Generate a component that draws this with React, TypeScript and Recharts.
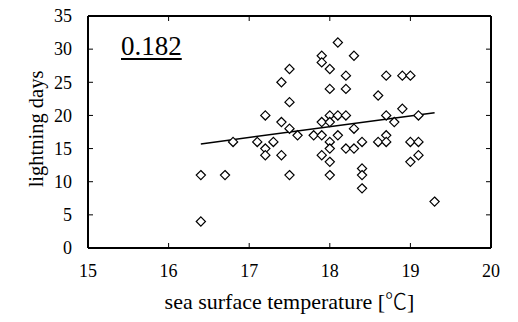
import React from 'react';
import { ScatterChart, Scatter, XAxis, YAxis, ReferenceLine, Label } from 'recharts';

const seaSurfaceTemp = [
  16.4, 16.7, 16.4, 16.8, 17.1, 17.3, 17.2, 17.2, 17.4, 17.5,
  17.5, 17.4, 17.5, 17.2, 17.4, 17.5, 17.6, 17.8, 17.9, 17.9,
  18.0, 18.0, 18.1, 18.2, 18.1, 18.3, 18.0, 18.0, 17.9, 18.0,
  18.0, 18.2, 18.3, 18.4, 18.4, 18.4, 18.4, 18.1, 17.9, 17.9,
  18.3, 18.0, 18.2, 18.7, 18.9, 19.0, 18.0, 18.2, 18.6, 18.9,
  18.7, 19.1, 18.8, 18.7, 18.6, 18.7, 19.0, 19.1, 19.1, 19.0,
  19.3,
];
const lightningDays = [
  11, 11, 4, 16, 16, 16, 15, 14, 14, 11,
  27, 25, 22, 20, 19, 18, 17, 17, 17, 19,
  20, 19, 20, 20, 17, 18, 16, 15, 14, 13,
  11, 15, 15, 16, 12, 11, 9, 31, 29, 28,
  29, 27, 26, 26, 26, 26, 24, 24, 23, 21,
  20, 20, 19, 17, 16, 16, 16, 16, 14, 13,
  7,
];
const xTicks = [15, 16, 17, 18, 19, 20];
const yTicks = [0, 5, 10, 15, 20, 25, 30, 35];
const trendX = [16.4, 19.3];
const trendY = [15.7, 20.4];
const correlationText = '0.182';
const xTitleText = 'sea surface temperature [';
const xTitleUnit = '℃';
const xTitleEnd = ']';
const yTitle = 'lightning days';

const points = seaSurfaceTemp.map((x, i) => ({ x, y: lightningDays[i] }));

const FONT = '"Liberation Serif", "Times New Roman", serif';
const CJK = '"Noto Sans CJK JP", "Noto Sans CJK SC", sans-serif';
const TICK_LEN = 5;

const BottomTick = (p: any) => (
  <g>
    <line x1={p.x} y1={p.y} x2={p.x} y2={p.y - TICK_LEN} stroke="#000" strokeWidth={1} />
    <text x={p.x} y={p.y + 29} textAnchor="middle" fontFamily={FONT} fontSize={18} fill="#000">
      {p.payload.value}
    </text>
  </g>
);
const LeftTick = (p: any) => (
  <g>
    <line x1={p.x} y1={p.y} x2={p.x + TICK_LEN} y2={p.y} stroke="#000" strokeWidth={1} />
    <text x={p.x - 16} y={p.y} dy="0.35em" textAnchor="end" fontFamily={FONT} fontSize={18} fill="#000">
      {p.payload.value}
    </text>
  </g>
);
const TopTick = (p: any) => (
  <line x1={p.x} y1={p.y} x2={p.x} y2={p.y + TICK_LEN} stroke="#000" strokeWidth={1} />
);
const RightTick = (p: any) => (
  <line x1={p.x} y1={p.y} x2={p.x - TICK_LEN} y2={p.y} stroke="#000" strokeWidth={1} />
);

const Diamond = (p: any) => {
  const { cx, cy } = p;
  const r = 4.6;
  return (
    <path
      d={`M${cx},${cy - r} L${cx + r},${cy} L${cx},${cy + r} L${cx - r},${cy} Z`}
      fill="#fff"
      stroke="#000"
      strokeWidth={1.2}
    />
  );
};
const Nothing = () => <g />;

const XTitle = (p: any) => {
  const vb = p.viewBox;
  return (
    <text x={vb.x + vb.width / 2} y={vb.y + 61} textAnchor="middle" fontFamily={FONT} fontSize={22} fill="#000">
      {xTitleText}
      <tspan fontFamily={CJK} fontWeight={300}>{xTitleUnit}</tspan>
      {xTitleEnd}
    </text>
  );
};
const YTitle = (p: any) => {
  const vb = p.viewBox;
  const cx = vb.x + 36;
  const cy = vb.y + vb.height / 2 - 3;
  return (
    <text
      x={cx}
      y={cy}
      textAnchor="middle"
      dominantBaseline="central"
      transform={`rotate(-90 ${cx} ${cy})`}
      fontFamily={FONT}
      fontSize={20.5}
      fill="#000"
    >
      {yTitle}
    </text>
  );
};

export default function App() {
  return (
    <div style={{ position: 'absolute', left: 0, top: 0, width: 518, height: 322, background: '#fff' }}>
      <ScatterChart width={518} height={322} margin={{ top: 15, right: 26, bottom: 0, left: 0 }}>
        <XAxis
          type="number"
          dataKey="x"
          domain={[15, 20]}
          ticks={xTicks}
          height={74}
          tickSize={0}
          tickMargin={0}
          tickLine={false}
          axisLine={{ stroke: '#000', strokeWidth: 2 }}
          tick={BottomTick}
          allowDataOverflow
        >
          <Label content={XTitle} />
        </XAxis>
        <XAxis
          xAxisId="top"
          orientation="top"
          type="number"
          dataKey="x"
          domain={[15, 20]}
          ticks={xTicks}
          height={1}
          tickSize={0}
          tickMargin={0}
          tickLine={false}
          axisLine={{ stroke: '#000', strokeWidth: 2 }}
          tick={TopTick}
          allowDataOverflow
        />
        <YAxis
          type="number"
          dataKey="y"
          domain={[0, 35]}
          ticks={yTicks}
          width={88}
          tickSize={0}
          tickMargin={0}
          tickLine={false}
          axisLine={{ stroke: '#000', strokeWidth: 2 }}
          tick={LeftTick}
          allowDataOverflow
        >
          <Label content={YTitle} />
        </YAxis>
        <YAxis
          yAxisId="right"
          orientation="right"
          type="number"
          dataKey="y"
          domain={[0, 35]}
          ticks={yTicks}
          width={1}
          tickSize={0}
          tickMargin={0}
          tickLine={false}
          axisLine={{ stroke: '#000', strokeWidth: 2 }}
          tick={RightTick}
          allowDataOverflow
        />
        <Scatter
          data={points}
          xAxisId="top"
          yAxisId="right"
          shape={Nothing}
          isAnimationActive={false}
          legendType="none"
        />
        <ReferenceLine
          segment={[
            { x: trendX[0], y: trendY[0] },
            { x: trendX[1], y: trendY[1] },
          ]}
          stroke="#000"
          strokeWidth={1.5}
          ifOverflow="visible"
        />
        <Scatter data={points} shape={Diamond} isAnimationActive={false} />
      </ScatterChart>
      <div
        style={{
          position: 'absolute',
          left: 121,
          top: 30,
          fontFamily: FONT,
          fontSize: 27,
          lineHeight: '32px',
          textDecoration: 'underline',
          textDecorationThickness: 1.5,
          textUnderlineOffset: 3,
          color: '#000',
        }}
      >
        {correlationText}
      </div>
    </div>
  );
}
